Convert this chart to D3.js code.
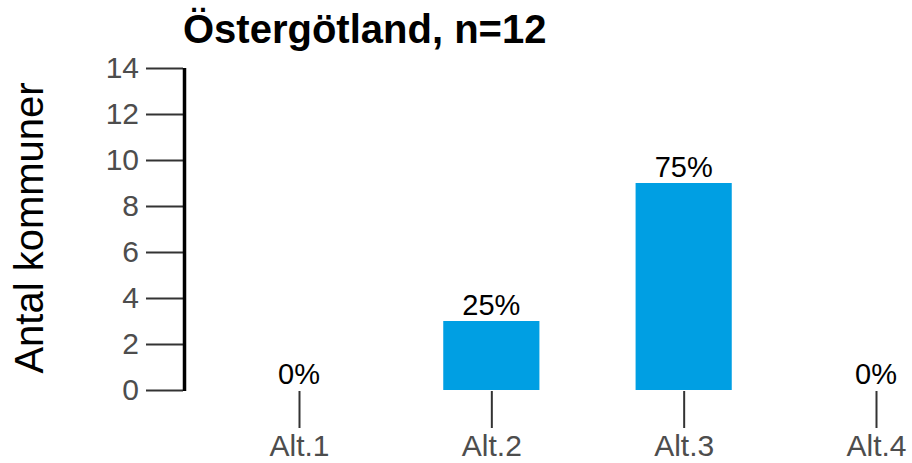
<!DOCTYPE html>
<html>
<head>
<meta charset="utf-8">
<script src="https://cdn.jsdelivr.net/npm/d3@7"></script>
<style>
  html, body { margin: 0; padding: 0; background: #fff; }
  svg { display: block; font-family: "Liberation Sans", Arial, sans-serif; }
</style>
</head>
<body>
<svg id="chart" width="912" height="463"></svg>
<script>
const categories = ["Alt.1", "Alt.2", "Alt.3", "Alt.4"];
const counts = [0, 3, 9, 0];
const percentLabels = ["0%", "25%", "75%", "0%"];
const yTicks = [0, 2, 4, 6, 8, 10, 12, 14];
const titleText = "Östergötland, n=12";
const yTitle = "Antal kommuner";

const svg = d3.select("#chart");
const panelLeft = 184.5, panelTop = 68, panelBottom = 390;

const x = d3.scalePoint().domain(categories).range([299, 876]);
const barW = (x(categories[1]) - x(categories[0])) * 0.5;
const y = d3.scaleLinear().domain([0, 14]).range([panelBottom, panelTop]);

// Bars
svg.append("g").selectAll("rect")
  .data(categories.map((c, i) => ({ c, v: counts[i] })))
  .join("rect")
  .attr("x", d => x(d.c) - barW / 2)
  .attr("width", barW)
  .attr("y", d => y(d.v))
  .attr("height", d => y(0) - y(d.v))
  .attr("fill", "#009fe3");

// Percent labels
svg.append("g").selectAll("text")
  .data(categories.map((c, i) => ({ c, v: counts[i], l: percentLabels[i] })))
  .join("text")
  .attr("x", d => x(d.c))
  .attr("y", d => y(d.v) - 6)
  .attr("text-anchor", "middle")
  .attr("font-size", 29)
  .attr("fill", "#000")
  .text(d => d.l);

// Y axis
const yAxis = d3.axisLeft(y).tickValues(yTicks).tickSize(37).tickPadding(7);
const gy = svg.append("g").attr("transform", `translate(${panelLeft - 1.5},0)`).call(yAxis);
gy.select(".domain").remove();
gy.selectAll(".tick line").attr("stroke", "#333").attr("stroke-width", 2);
gy.selectAll(".tick text").attr("font-size", 30).attr("fill", "#4d4d4d")
  .attr("font-family", "'Liberation Sans', Arial, sans-serif");

// Thick left axis line
svg.append("line")
  .attr("x1", panelLeft).attr("x2", panelLeft)
  .attr("y1", y(14)).attr("y2", y(0) + 1)
  .attr("stroke", "#000").attr("stroke-width", 3.5);

// X axis
const xAxis = d3.axisBottom(x).tickSize(37).tickPadding(7);
const gx = svg.append("g").attr("transform", `translate(0,${panelBottom + 1})`).call(xAxis);
gx.select(".domain").remove();
gx.selectAll(".tick line").attr("stroke", "#333").attr("stroke-width", 2);
gx.selectAll(".tick text").attr("font-size", 30).attr("fill", "#4d4d4d")
  .attr("font-family", "'Liberation Sans', Arial, sans-serif");

// Title
svg.append("text")
  .attr("x", 183).attr("y", 43)
  .attr("font-size", 40).attr("font-weight", "bold").attr("fill", "#000")
  .text(titleText);

// Y title
svg.append("text")
  .attr("transform", `translate(43,${(panelTop + panelBottom) / 2 - 1}) rotate(-90)`)
  .attr("text-anchor", "middle")
  .attr("font-size", 40).attr("fill", "#000")
  .text(yTitle);
</script>
</body>
</html>
